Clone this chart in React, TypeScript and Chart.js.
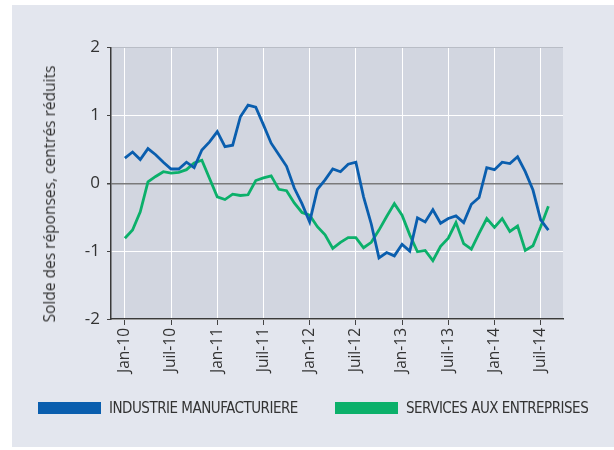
import React, { useEffect, useRef } from 'react';
import { Chart, registerables } from 'chart.js';

Chart.register(...registerables);

const tickMonths = [0, 6, 12, 18, 24, 30, 36, 42, 48, 54];
const tickLabels = ['Jan-10', 'Juil-10', 'Jan-11', 'Juil-11', 'Jan-12', 'Juil-12', 'Jan-13', 'Juil-13', 'Jan-14', 'Juil-14'];

// Monthly values, Jan-2010 .. Aug-2014
const industrie = [
  0.37, 0.46, 0.35, 0.51, 0.42, 0.31, 0.21, 0.21, 0.31, 0.23,
  0.49, 0.61, 0.76, 0.54, 0.56, 0.98, 1.15, 1.12, 0.86, 0.59,
  0.42, 0.25, -0.07, -0.30, -0.57, -0.09, 0.05, 0.21, 0.17, 0.28,
  0.31, -0.20, -0.60, -1.10, -1.02, -1.07, -0.90, -1.00, -0.51, -0.57,
  -0.39, -0.59, -0.52, -0.48, -0.58, -0.31, -0.21, 0.23, 0.20, 0.31,
  0.29, 0.39, 0.17, -0.10, -0.54, -0.69,
];
const services = [
  -0.81, -0.69, -0.42, 0.02, 0.10, 0.17, 0.15, 0.16, 0.20, 0.30,
  0.34, 0.07, -0.20, -0.24, -0.16, -0.18, -0.17, 0.04, 0.08, 0.11,
  -0.09, -0.11, -0.29, -0.43, -0.47, -0.64, -0.76, -0.96, -0.87, -0.80,
  -0.80, -0.95, -0.87, -0.69, -0.49, -0.30, -0.47, -0.76, -1.01, -0.99,
  -1.14, -0.93, -0.81, -0.58, -0.89, -0.97, -0.74, -0.52, -0.65, -0.52,
  -0.71, -0.63, -0.99, -0.92, -0.64, -0.34,
];

const seriesNames = ['INDUSTRIE MANUFACTURIERE', 'SERVICES AUX ENTREPRISES'];
const seriesColors = ['#0a5eae', '#0bb06a'];
const yTitle = 'Solde des réponses, centrés réduits';

const W = 614;
const H = 450;
const PLOT_LEFT = 111;
const PLOT_RIGHT = 563;
const PLOT_TOP = 47.5;
const PLOT_BOTTOM = 319;

const plotBg = {
  id: 'plotBg',
  beforeDraw(chart: any) {
    const { ctx, chartArea } = chart;
    if (!chartArea) return;
    ctx.save();
    ctx.fillStyle = '#d2d6e0';
    ctx.fillRect(chartArea.left, chartArea.top, chartArea.right - chartArea.left, chartArea.bottom - chartArea.top);
    ctx.restore();
  },
};

export default function App() {
  const ref = useRef<HTMLCanvasElement | null>(null);

  useEffect(() => {
    if (!ref.current) return;
    const chart = new Chart(ref.current, {
      type: 'line',
      data: {
        datasets: [
          {
            label: seriesNames[0],
            data: industrie.map((v, i) => ({ x: i, y: v })),
            borderColor: seriesColors[0],
            backgroundColor: seriesColors[0],
            borderWidth: 2.8,
            pointRadius: 0,
            tension: 0,
          },
          {
            label: seriesNames[1],
            data: services.map((v, i) => ({ x: i, y: v })),
            borderColor: seriesColors[1],
            backgroundColor: seriesColors[1],
            borderWidth: 2.8,
            pointRadius: 0,
            tension: 0,
          },
        ],
      },
      options: {
        animation: false,
        responsive: false,
        maintainAspectRatio: false,
        layout: { padding: { left: 0, right: W - PLOT_RIGHT, top: PLOT_TOP, bottom: 0 } },
        plugins: { legend: { display: false }, tooltip: { enabled: false } },
        scales: {
          x: {
            type: 'linear',
            min: -1.8,
            max: 56.9,
            afterBuildTicks: (s: any) => {
              s.ticks = tickMonths.map((v) => ({ value: v }));
            },
            afterFit: (s: any) => {
              s.height = H - PLOT_BOTTOM;
            },
            ticks: {
              autoSkip: false,
              maxRotation: 90,
              minRotation: 90,
              padding: 3,
              color: '#333',
              font: { family: "'Open Sans', sans-serif", size: 15.5 },
              callback: (v: any) => {
                const k = tickMonths.indexOf(Number(v));
                return k >= 0 ? tickLabels[k] : '';
              },
            },
            grid: { color: '#ffffff', lineWidth: 1, tickColor: '#444', tickLength: 6 },
            border: { color: '#3a3a3a', width: 1.5 },
          },
          y: {
            min: -2,
            max: 2,
            afterFit: (s: any) => {
              s.width = PLOT_LEFT;
            },
            ticks: {
              stepSize: 1,
              padding: 7,
              color: '#333',
              font: { family: "'Open Sans', sans-serif", size: 17 },
            },
            grid: {
              color: (c: any) => (c.tick && c.tick.value === 0 ? '#7a7a7a' : c.tick && c.tick.value === 2 ? '#b9bdc6' : '#ffffff'),
              lineWidth: (c: any) => (c.tick && c.tick.value === 0 ? 1.5 : 1),
              tickColor: '#444',
              tickLength: 4,
            },
            border: { color: '#3a3a3a', width: 1.5 },
          },
        },
      },
      plugins: [plotBg],
    } as any);
    return () => chart.destroy();
  }, []);

  const legendFont = "'Liberation Sans Narrow', 'DejaVu Sans Condensed', sans-serif";
  const legendText: React.CSSProperties = {
    position: 'absolute',
    top: 398,
    fontFamily: legendFont,
    fontSize: 15,
    letterSpacing: '-0.5px',
    color: '#333',
    whiteSpace: 'nowrap',
    lineHeight: '20px',
  };

  return (
    <div style={{ position: 'absolute', left: 0, top: 0, width: W, height: H }}>
      <div style={{ position: 'absolute', left: 12, top: 5, width: W - 12, height: 442, background: '#e3e6ee' }} />
      <canvas ref={ref} width={W} height={H} style={{ position: 'absolute', left: 0, top: 0, width: W, height: H }} />
      <div
        style={{
          position: 'absolute',
          left: 49,
          top: 194,
          transform: 'translate(-50%, -50%) rotate(-90deg)',
          whiteSpace: 'nowrap',
          fontFamily: "'Open Sans', sans-serif",
          fontSize: 15.5,
          color: '#333',
        }}
      >
        {yTitle}
      </div>
      <div style={{ position: 'absolute', left: 38, top: 402, width: 63, height: 12, background: seriesColors[0] }} />
      <div style={{ ...legendText, left: 109 }}>{seriesNames[0]}</div>
      <div style={{ position: 'absolute', left: 335, top: 402, width: 63, height: 12, background: seriesColors[1] }} />
      <div style={{ ...legendText, left: 406 }}>{seriesNames[1]}</div>
    </div>
  );
}
